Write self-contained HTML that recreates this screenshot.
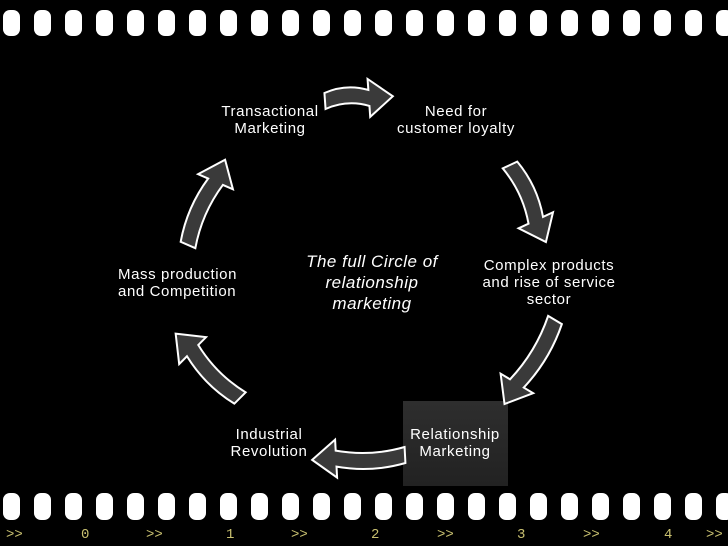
<!DOCTYPE html>
<html><head><meta charset="utf-8"><style>
html,body{margin:0;padding:0;background:#000;}
body{width:728px;height:546px;position:relative;overflow:hidden;font-family:"Liberation Sans",sans-serif;}
.t{position:absolute;color:#fff;font-size:15px;letter-spacing:0.6px;line-height:17px;text-align:center;white-space:nowrap;}
.n{position:absolute;color:#c8c070;font-family:"Liberation Mono",monospace;font-size:14px;top:527px;}
</style></head><body>
<svg width="728" height="546" style="position:absolute;left:0;top:0">
<defs>
<linearGradient id="g" x1="0" y1="0" x2="0" y2="1"><stop offset="0" stop-color="#2e2e2e"/><stop offset="1" stop-color="#222"/></linearGradient>
</defs>
<g fill="#fff" id="holes">
</g>
<rect x="403" y="401" width="105" height="85" fill="url(#g)"/>
<g fill="#3a3a3a" stroke="#fff" stroke-width="2" stroke-linejoin="miter">
<path id="a1" transform="translate(325,101) rotate(-4)" d=""/>
<path id="a2" transform="translate(510,165) rotate(65)" d=""/>
<path id="a3" transform="translate(555,320) rotate(121)" d=""/>
<path id="a4" transform="translate(405,455) rotate(177)" d=""/>
<path id="a5" transform="translate(240,398) rotate(225)" d=""/>
<path id="a6" transform="translate(188,245) rotate(-66.5)" d=""/>
</g>
</svg>
<script>
var h=document.getElementById('holes'),s='';
for(var i=0;i<24;i++){var x=3+i*31;s+='<rect x="'+x+'" y="10" width="17" height="26" rx="7"/><rect x="'+x+'" y="493" width="17" height="27" rx="7"/>';}
h.innerHTML=s;
var L={a1:68,a2:85,a3:98,a4:93,a5:91,a6:93};
for(var k in L){var l=L[k],m=l-24,b=8;
document.getElementById(k).setAttribute('d','M0,-8 Q'+m/2+','+(-8-b)+' '+m+',-8 L'+m+',-19 L'+l+',0 L'+m+',19 L'+m+',8 Q'+m/2+','+(8-b)+' 0,8 Z');}
</script>
<div class="t" style="left:190px;top:103px;width:160px">Transactional<br>Marketing</div>
<div class="t" style="left:376px;top:103px;width:160px">Need for<br>customer loyalty</div>
<div class="t" style="left:464px;top:257px;width:170px">Complex products<br>and rise of service<br>sector</div>
<div class="t" style="left:118px;top:266px;text-align:left">Mass production<br>and Competition</div>
<div class="t" style="left:189px;top:426px;width:160px">Industrial<br>Revolution</div>
<div class="t" style="left:375px;top:426px;width:160px">Relationship<br>Marketing</div>
<div class="t" style="left:282px;top:251px;width:180px;font-size:17px;letter-spacing:0.5px;line-height:21px;font-style:italic">The full Circle of<br>relationship<br>marketing</div>
<div class="n" style="left:6px">&gt;&gt;</div>
<div class="n" style="left:81px">0</div>
<div class="n" style="left:146px">&gt;&gt;</div>
<div class="n" style="left:226px">1</div>
<div class="n" style="left:291px">&gt;&gt;</div>
<div class="n" style="left:371px">2</div>
<div class="n" style="left:437px">&gt;&gt;</div>
<div class="n" style="left:517px">3</div>
<div class="n" style="left:583px">&gt;&gt;</div>
<div class="n" style="left:664px">4</div>
<div class="n" style="left:706px">&gt;&gt;</div>
</body></html>
